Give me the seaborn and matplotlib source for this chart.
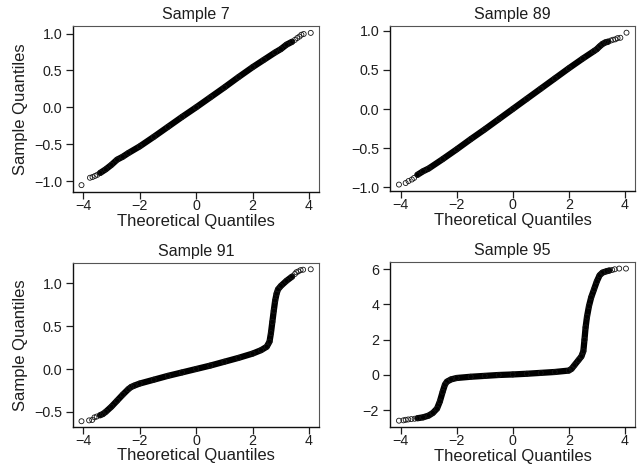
import matplotlib
matplotlib.use("Agg")
import matplotlib.pyplot as plt
import pandas as pd
import seaborn as sns

# ---------------- data ----------------
titles = ["Sample 7", "Sample 89", "Sample 91", "Sample 95"]

theo_7 = [-4.06, -3.76, -3.67, -3.58, -3.5, -3.4, -3.2, -3.0, -2.8, -2.6, -2.4, -2.0, -1.5, -1.0, -0.5,
          0.0, 0.5, 1.0, 1.5, 2.0, 2.4, 2.8, 3.0, 3.2, 3.4, 3.5, 3.58, 3.66, 3.73, 3.81, 4.06]
samp_7 = [-1.055, -0.955, -0.945, -0.93, -0.915, -0.89, -0.84, -0.78, -0.71, -0.67, -0.62, -0.53, -0.40, -0.265, -0.13,
          0.0, 0.135, 0.27, 0.41, 0.545, 0.645, 0.745, 0.79, 0.85, 0.89, 0.915, 0.94, 0.96, 0.985, 0.995, 1.01]

theo_89 = [-4.06, -3.82, -3.72, -3.6, -3.52, -3.4, -3.2, -3.0, -2.5, -2.0, -1.5, -1.0, -0.5, 0.0, 0.5,
           1.0, 1.5, 2.0, 2.5, 2.9, 3.0, 3.1, 3.2, 3.3, 3.4, 3.5, 3.58, 3.66, 3.74, 3.84, 4.06]
samp_89 = [-0.965, -0.945, -0.92, -0.90, -0.88, -0.84, -0.795, -0.76, -0.64, -0.515, -0.385, -0.26, -0.13, 0.0, 0.13,
           0.26, 0.39, 0.52, 0.645, 0.74, 0.765, 0.80, 0.83, 0.85, 0.86, 0.875, 0.885, 0.89, 0.905, 0.91, 0.975]

theo_91 = [-4.06, -3.79, -3.68, -3.6, -3.52, -3.4, -3.3, -3.2, -3.0, -2.8, -2.6, -2.4, -2.3, -2.2, -2.0,
           -1.5, -1.0, -0.5, 0.0, 0.5, 1.0, 1.5, 2.0, 2.3, 2.5, 2.6, 2.65, 2.7, 2.75, 2.8,
           2.85, 2.9, 3.0, 3.2, 3.4, 3.5, 3.55, 3.62, 3.7, 3.79, 4.06]
samp_91 = [-0.61, -0.60, -0.595, -0.565, -0.555, -0.54, -0.525, -0.50, -0.44, -0.37, -0.30, -0.235, -0.21, -0.195, -0.17,
           -0.125, -0.08, -0.04, 0.0, 0.04, 0.085, 0.13, 0.18, 0.22, 0.26, 0.32, 0.42, 0.55, 0.68, 0.80,
           0.88, 0.93, 0.97, 1.03, 1.08, 1.11, 1.13, 1.14, 1.155, 1.16, 1.165]

theo_95 = [-4.06, -3.9, -3.82, -3.73, -3.62, -3.5, -3.4, -3.2, -3.0, -2.85, -2.7, -2.6, -2.5, -2.42, -2.35,
           -2.2, -2.0, -1.5, -1.0, -0.5, 0.0, 0.5, 1.0, 1.5, 2.0, 2.1, 2.2, 2.35, 2.45, 2.52,
           2.56, 2.6, 2.65, 2.72, 2.8, 2.9, 3.0, 3.1, 3.2, 3.35, 3.45, 3.55, 3.64, 3.8, 4.04]
samp_95 = [-2.59, -2.57, -2.54, -2.52, -2.50, -2.48, -2.45, -2.40, -2.30, -2.15, -1.90, -1.50, -0.95, -0.55, -0.38,
           -0.25, -0.17, -0.10, -0.05, 0.0, 0.03, 0.07, 0.12, 0.17, 0.25, 0.35, 0.55, 0.85, 1.05, 1.35,
           2.0, 2.7, 3.3, 3.9, 4.4, 4.85, 5.3, 5.65, 5.80, 5.88, 5.92, 5.95, 5.99, 6.03, 6.03]

x_ticks = [-4, -2, 0, 2, 4]
x_tick_labels = ["\u22124", "\u22122", "0", "2", "4"]
y_ticks_a = [-1.0, -0.5, 0.0, 0.5, 1.0]
y_tick_labels_a = ["\u22121.0", "\u22120.5", "0.0", "0.5", "1.0"]
y_ticks_c = [-0.5, 0.0, 0.5, 1.0]
y_tick_labels_c = ["\u22120.5", "0.0", "0.5", "1.0"]
y_ticks_d = [-2, 0, 2, 4, 6]
y_tick_labels_d = ["\u22122", "0", "2", "4", "6"]

x_label = "Theoretical Quantiles"
y_label = "Sample Quantiles"

# ---------------- style ----------------
sns.set_theme(style="white")
plt.rcParams["font.family"] = ["Liberation Sans", "DejaVu Sans"]
TXT = "#1e1e1e"

panels = [
    dict(title=titles[0], x=theo_7, y=samp_7, yt=y_ticks_a, ytl=y_tick_labels_a,
         pos=[0.114, 0.592, 0.382, 0.3526], xlim=(-4.35, 4.35), ylim=(-1.145, 1.103), ylab=True),
    dict(title=titles[1], x=theo_89, y=samp_89, yt=y_ticks_a, ytl=y_tick_labels_a,
         pos=[0.6065, 0.5936, 0.3818, 0.351], xlim=(-4.38, 4.38), ylim=(-1.047, 1.06), ylab=False),
    dict(title=titles[2], x=theo_91, y=samp_91, yt=y_ticks_c, ytl=y_tick_labels_c,
         pos=[0.114, 0.0921, 0.382, 0.3477], xlim=(-4.35, 4.35), ylim=(-0.674, 1.235), ylab=True),
    dict(title=titles[3], x=theo_95, y=samp_95, yt=y_ticks_d, ytl=y_tick_labels_d,
         pos=[0.6065, 0.0909, 0.3818, 0.351], xlim=(-4.38, 4.38), ylim=(-2.963, 6.385), ylab=False),
]

fig = plt.figure(figsize=(6.43, 4.70), dpi=100)

for p in panels:
    ax = fig.add_axes(p["pos"])
    df = pd.DataFrame({"theo": p["x"], "samp": p["y"]})
    band = df[df["theo"].abs() <= 3.45]
    # dense part of the QQ cloud (overlapping points read as a solid band)
    sns.lineplot(data=band, x="theo", y="samp", sort=False, estimator=None,
                 color="black", linewidth=4.5, solid_capstyle="round", ax=ax)
    sns.scatterplot(data=df, x="theo", y="samp", marker="o", s=13,
                    fc="none", ec="#151515", linewidth=0.6, ax=ax, zorder=3)

    ax.set_xlim(*p["xlim"])
    ax.set_ylim(*p["ylim"])
    ax.set_xticks(x_ticks)
    ax.set_xticklabels(x_tick_labels)
    ax.set_yticks(p["yt"])
    ax.set_yticklabels(p["ytl"])
    ax.tick_params(axis="both", direction="out", length=4.8, width=0.9,
                   color=TXT, labelcolor=TXT, labelsize=10.3)
    ax.tick_params(axis="x", pad=0.3)
    ax.tick_params(axis="y", pad=3.0)
    ax.tick_params(left=True, bottom=True)

    for side in ["left", "bottom"]:
        ax.spines[side].set_color("#111111")
        ax.spines[side].set_linewidth(1.0)
    for side in ["top", "right"]:
        ax.spines[side].set_color("#555555")
        ax.spines[side].set_linewidth(0.8)

    ax.set_title(p["title"], fontsize=11.5, color=TXT, pad=5)
    ax.set_xlabel(x_label, fontsize=12, color=TXT)
    ax.xaxis.set_label_coords(0.5, -0.132)
    if p["ylab"]:
        ax.set_ylabel(y_label, fontsize=12, color=TXT)
        ax.yaxis.set_label_coords(-0.185, 0.5)
    else:
        ax.set_ylabel("")

fig.savefig("out.png", dpi=100)
